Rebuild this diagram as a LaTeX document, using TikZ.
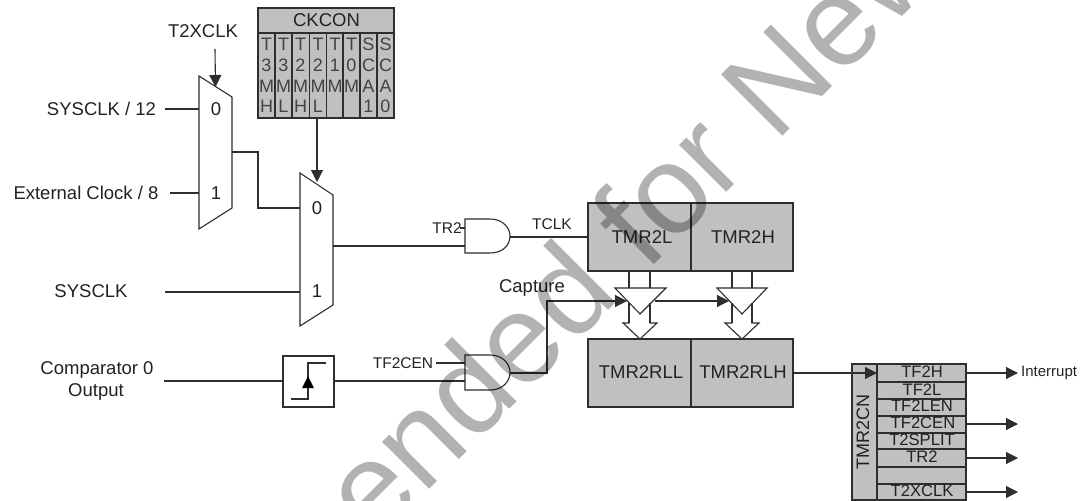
\documentclass[tikz,border=0pt]{standalone}
\usepackage{fontspec}
\setmainfont{Liberation Sans}
\usetikzlibrary{arrows.meta}
\definecolor{ln}{HTML}{2E2E2E}
\definecolor{txt}{HTML}{222222}
\definecolor{fillg}{HTML}{C0C0C0}
\tikzset{
  wire/.style={draw=ln,line width=1.1pt},
  arr/.style={wire,-{Triangle[length=12pt,width=12pt]}},
  box/.style={draw=ln,fill=fillg,line width=1.2pt,inner sep=0pt},
  muxs/.style={draw=ln,fill=white,line width=1.1pt},
  lab/.style={text=txt,inner sep=0pt,font=\fontsize{18.5}{18.5}\selectfont},
  small/.style={text=txt,inner sep=0pt,font=\fontsize{15.5}{15.5}\selectfont},
  rowt/.style={text=txt,inner sep=0pt,font=\fontsize{16.6}{16.6}\selectfont},
  cell/.style={text=txt!85!white,inner sep=0pt,font=\fontsize{18}{18}\selectfont},
  wm/.style={text=black,text opacity=0.3,inner sep=0pt,font=\fontsize{126}{126}\selectfont}
}
\begin{document}
\begin{tikzpicture}[x=1pt,y=-1pt]
\useasboundingbox (0,0) rectangle (1080,501);
\clip (0,0) rectangle (1080,501);
\fill[white] (0,0) rectangle (1080,501);

% --- multiplexers
\draw[muxs] (199,76) -- (232,97) -- (232,208) -- (199,229) -- cycle;
\draw[muxs] (300,173) -- (333,195) -- (333,305) -- (300,326) -- cycle;
\coordinate (m1top) at (215.5,87);
\coordinate (m1a) at (199,109);
\coordinate (m1b) at (199,193);
\coordinate (m1o) at (232,152);
\coordinate (m2top) at (317,182);
\coordinate (m2a) at (300,208);
\coordinate (m2b) at (300,292);
\coordinate (m2o) at (333,246);
\node[lab] (m1d0) at (216,109) {0};
\node[lab] (m1d1) at (216,193) {1};
\node[lab] (m2d0) at (317,208) {0};
\node[lab] (m2d1) at (317,291) {1};

% --- input labels
\node[lab] (t2x) at (203,31) {T2XCLK};
\node[lab] (s12) at (101.5,109) {SYSCLK / 12};
\node[lab] (ext) at (86,193) {External Clock / 8};
\node[lab] (sys) at (91,291) {SYSCLK};
\node[lab] (cmp1) at (97,370) {Comparator 0};
\node[lab] (cmp2) at (96,392) {Output};
\coordinate (t2xs) at (215,49);
\coordinate (s12s) at (165,109);
\coordinate (exts) at (170,193);
\coordinate (syss) at (165,292);
\coordinate (cmps) at (164,381);

% --- CKCON
\node[box,minimum width=136pt,minimum height=25pt] (ckh) at (326,20.5) {};
\node[lab] (ckt) at (326.5,20) {CKCON};
\node[box,minimum width=136pt,minimum height=85pt] (ckb) at (326,75.5) {};
\foreach \x in {275,292,309.5,326.5,343,360,377}
  \draw[wire,line width=1.2pt] (\x,33) -- (\x,118);
\foreach \x/\a/\b/\c/\d in {266.5/T/3/M/H,283.5/T/3/M/L,300.5/T/2/M/H,318/T/2/M/L,335/T/1/M/,351.5/T/0/M/,368.5/S/C/A/1,385.5/S/C/A/0}{
  \node[cell] at (\x,44) {\a};
  \node[cell] at (\x,65) {\b};
  \node[cell] at (\x,86) {\c};
  \node[cell] at (\x,106) {\d};
}
\coordinate (cks) at (317,118);

% --- gates
\draw[muxs] (465,219) -- (490,219) .. controls (503,219) and (510,228) .. (510,236) .. controls (510,245) and (503,253) .. (490,253) -- (465,253) -- cycle;
\draw[muxs] (465,355) -- (490,355) .. controls (503,355) and (510,364) .. (510,372.5) .. controls (510,381) and (503,390) .. (490,390) -- (465,390) -- cycle;
\coordinate (g1a) at (465,228);
\coordinate (g1b) at (465,246);
\coordinate (g1o) at (510,237);
\coordinate (g2a) at (465,363);
\coordinate (g2b) at (465,381);
\coordinate (g2o) at (510,373);
\node[small] (tr2) at (447,228) {TR2};
\node[small] (tf2) at (403,363) {TF2CEN};
\node[small] (tclk) at (552,224) {TCLK};
\node[lab] (cap) at (532,288) {Capture};
\coordinate (tr2s) at (437,228);
\coordinate (tr2t) at (460,228);
\coordinate (tf2s) at (436,363);

% --- edge detector
\node[draw=ln,fill=white,line width=1.2pt,minimum width=51pt,minimum height=51pt,inner sep=0pt] (det) at (308.5,381.5) {};
\draw[wire] (291,399) -- (308,399) -- (308,363) -- (326,363);
\fill[black] (308,376) -- (314,388) -- (302,388) -- cycle;

% --- timer registers
\node[box,minimum width=103pt,minimum height=68pt] (tl) at (639.5,237) {};
\node[box,minimum width=102pt,minimum height=68pt] (th) at (742,237) {};
\node[box,minimum width=103pt,minimum height=68pt] (rl) at (639.5,373) {};
\node[box,minimum width=102pt,minimum height=68pt] (rh) at (742,373) {};
\node[lab] at (642,237) {TMR2L};
\node[lab] at (743,237) {TMR2H};
\node[lab] at (641,372) {TMR2RLL};
\node[lab] at (743,372) {TMR2RLH};

% --- transfer buffers
\foreach \c/\l/\r/\tl/\tr/\hl/\hr in {640/629/650/615/666/623/657,742/732/752/717/767/725/759}{
  \draw[wire,fill=white] (\hl,323) -- (\l,323) -- (\l,303) -- (\r,303) -- (\r,323) -- (\hr,323) -- (\c,339) -- cycle;
  \draw[wire] (\l,271) -- (\l,288);
  \draw[wire] (\r,271) -- (\r,288);
  \draw[wire,fill=white] (\tl,288) -- (\tr,288) -- (\c,314) -- cycle;
  \draw[wire] (\l,303) -- (\l,323);
  \draw[wire] (\r,303) -- (\r,323);
}
\coordinate (tri1) at (627,301);
\coordinate (tri1o) at (655,301);
\coordinate (tri2) at (729,301);

% --- TMR2CN
\node[box,minimum width=114pt,minimum height=136pt] (cn) at (909,432) {};
\draw[wire,line width=1.2pt] (877,364) -- (877,500);
\foreach \y in {382,399,416,433,449,467,484}
  \draw[wire] (877,\y) -- (966,\y);
\node[lab,rotate=90,font=\fontsize{18}{18}\selectfont] at (863,432) {TMR2CN};
\node[rowt] at (922,372) {TF2H};
\node[rowt] at (922,390) {TF2L};
\node[rowt] at (922,406) {TF2LEN};
\node[rowt] at (923,423) {TF2CEN};
\node[rowt] at (922,440) {T2SPLIT};
\node[rowt] at (922,457) {TR2};
\node[rowt] at (922,491) {T2XCLK};
\coordinate (cna) at (877,373);
\coordinate (o1s) at (966,373);
\coordinate (o2s) at (966,424);
\coordinate (o3s) at (966,458);
\coordinate (o4s) at (966,492);
\coordinate (o1) at (1018,373);
\coordinate (o2) at (1018,424);
\coordinate (o3) at (1018,458);
\coordinate (o4) at (1018,492);
\node[small,anchor=west,font=\fontsize{15}{15}\selectfont] (intr) at (1021,373) {Interrupt};

% --- connectors
\draw[arr] (t2xs) -- (m1top);
\draw[arr] (cks) -- (m2top);
\draw[wire] (s12s) -- (m1a);
\draw[wire] (exts) -- (m1b);
\draw[wire] (m1o) -| (258,208) -- (m2a);
\draw[wire] (syss) -- (m2b);
\draw[wire] (m2o) -- (g1b);
\draw[wire] (tr2t) -- (g1a);
\draw[wire] (g1o) -- (tl.west |- g1o);
\draw[wire] (cmps) -- (det.west |- cmps);
\draw[wire] (det.east |- g2b) -- (g2b);
\draw[wire] (tf2s) -- (g2a);
\draw[arr] (g2o) -| (547,301) -- (tri1);
\draw[arr] (tri1o) -- (tri2);
\draw[arr] (rh.east |- cna) -- (cna);
\draw[arr] (o1s) -- (o1);
\draw[arr] (o2s) -- (o2);
\draw[arr] (o3s) -- (o3);
\draw[arr] (o4s) -- (o4);

% --- watermark
\node[wm,anchor=base west,rotate=45] (mark) at (374,545) {ended for New};
\end{tikzpicture}
\end{document}
